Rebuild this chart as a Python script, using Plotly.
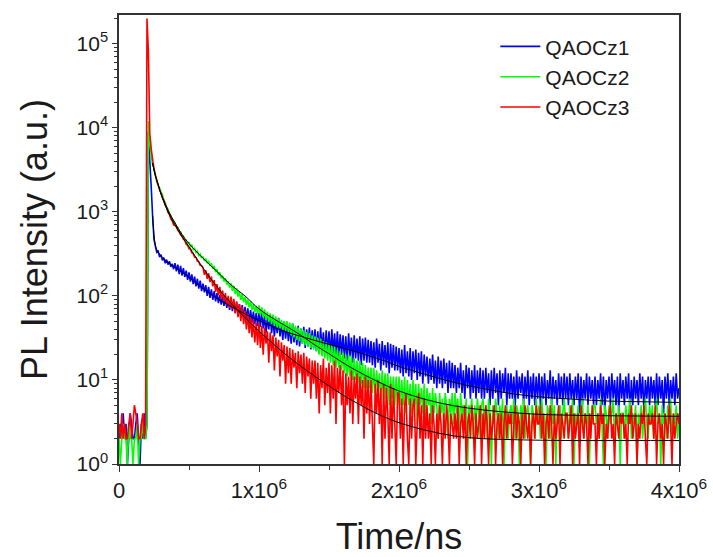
import numpy as np
import plotly.graph_objects as go

# channel times (ns), 10 us bins from 0 to 4e6 ns
time_ns = np.arange(401) * 10000.0

qaocz1 = [
 2,3,2,4,2,3,1,2,4,3,2,2,3,4,2,1,3,2,4,2,
 3,9000,4000,2000,900,470,390,330,340,290,310,265,285,245,270,236,258,222,240,208,
 245,196,236,182,228,175,214,168,200,155,190,148,180,138,170,130,160,122,152,114,
 140,110,134,100,128,95,120,90,114,86,108,82,103,79,98,76,94,72,90,68,
 90,66,87,63,84,61,80,58,78,56,74,53,71,50,68,48,65,46,63,44,
 63,43,66,41,58,36,56,40,60,36,53,33,51,36,55,33,48,30,50,31,
 46,29,44,27,47,28,42,26,44,25,41,27,43,24,40,25,42,23,39,24,
 40,22,38,21,42,23,37,20,39,21,38,19,40,21,36,20,38,19,35,20,
 34,18,33,17,36,19,32,16,34,18,31,17,33,15,31,17,32,16,30,16,
 29,15,28,14,31,16,27,13,29,15,26,14,28,12,27,14,26,13,25,13,
 24,12,23,11,26,12,22,11,24,10,22,12,23,10,21,11,22,9,20,11,
 19,9,18,10,20,9,17,8,19,9,17,8,18,9,16,7,17,8,16,8,
 15,7,14,8,16,7,13,6,15,8,14,6,13,7,15,6,13,7,14,6,
 13,6,14,7,12,5,13,6,14,7,12,5,13,6,12,7,14,5,12,6,
 12,6,11,5,13,6,11,7,12,5,11,6,13,5,11,6,12,5,11,6,
 12,5,11,6,12,5,10,6,13,5,11,6,10,5,12,6,11,5,12,6,
 11,5,12,6,10,5,11,6,12,4,11,5,10,6,12,5,11,6,10,5,
 11,5,10,6,12,5,11,4,10,6,11,5,12,6,10,5,11,4,12,6,
 10,5,11,6,12,4,10,5,11,6,10,5,12,6,11,4,10,6,11,5,
 11,6,10,5,12,5,11,6,10,4,11,6,12,5,10,6,11,5,12,6,8,
]

qaocz2 = [
 2,1,2,3,2,2,1,3,2,2,1,2,2,3,1,2,2,3,2,2,
 3,12000,6500,4700,3650,3250,2650,2450,2060,1930,1720,1610,1380,1300,1130,1070,945,895,800,770,
 735,650,650,575,575,510,515,455,460,415,435,385,400,355,368,328,342,303,316,282,
 295,262,278,244,262,228,244,210,228,192,208,176,190,162,174,148,162,136,150,126,
 142,115,132,106,123,98,114,90,105,84,97,78,91,73,86,68,80,64,76,61,
 77,59,73,55,69,52,65,49,62,46,60,44,57,42,54,41,52,39,50,38,
 50,36,48,34,47,32,44,30,42,29,41,27,39,26,37,25,36,24,34,23,
 33,22,32,20,31,19,29,18,28,17,27,16,26,15,25,14,23,14,22,13,
 21,12,20,11,20,11,19,10,18,10,17,9,17,9,16,8,15,8,14,8,
 14,7,14,7,13,7,12,6,13,6,12,6,12,5,11,6,11,5,11,5,
 11,5,10,5,11,4,10,5,9,4,10,5,9,3,9,5,8,4,9,3,
 8,5,7,3,8,4,7,5,2,7,4,6,3,7,5,2,6,4,7,3,
 7,4,6,2,7,4,5,3,6,1,5,4,6,2,5,3,6,4,2,5,
 6,3,5,2,6,4,1,5,3,6,4,2,5,3,6,1,4,5,2,4,
 5,3,6,2,5,4,1,5,3,6,2,4,5,3,1,5,4,2,6,3,
 5,2,6,3,4,1,5,4,2,6,3,5,1,4,3,5,2,4,6,3,
 4,2,5,3,6,1,4,3,5,2,4,6,2,4,3,5,1,4,3,5,
 5,3,4,2,6,3,1,5,4,2,5,3,4,6,2,4,3,5,1,4,
 4,2,5,3,4,6,2,4,3,5,1,4,3,5,2,4,6,3,2,5,
 3,5,2,4,6,3,4,1,5,3,4,2,5,3,6,2,4,3,5,2,4,
]

qaocz3 = [
 3,2,4,2,3,2,2,3,4,2,3,5,4,3,2,2,3,4,2,3,
 200000,80000,8500,5700,4200,3250,2750,2300,2080,1820,1680,1470,1370,1210,1130,985,935,825,785,700,
 690,668,604,582,531,519,472,459,412,400,364,362,327,318,290,286,259,254,231,229,
 218,178,202,160,186,146,170,130,154,112,138,102,128,92,116,86,108,78,100,72,
 98,70,92,62,86,56,80,50,74,46,66,40,62,36,56,32,52,28,48,26,
 48,24,44,20,42,27,38,16,37,22,34,13,32,19,30,11,28,17,26,9,
 25,12,24,9,23,14,21,8,22,12,20,9,21,7,19,11,18,6,17,9,
 17,6,16,4,15,8,18,5,14,7,16,4,15,6,17,3,14,7,15,5,
 13,1,12,5,11,4,13,3,11,6,12,3,11,5,10,2,11,4,10,3,
 10,3,1,9,4,10,3,8,1,9,2,8,4,1,9,2,8,3,1,7,
 7,2,6,1,5,7,2,1,6,2,5,6,1,3,7,2,5,1,6,2,
 5,2,4,1,5,3,1,4,2,5,3,1,4,2,5,3,1,4,3,2,
 4,2,5,1,3,4,2,5,1,3,4,2,5,3,1,4,2,3,5,1,
 4,2,5,3,1,4,2,3,5,1,3,4,2,4,1,3,5,2,4,3,
 4,1,3,5,2,4,3,1,4,2,5,3,2,4,1,3,4,2,5,3,
 3,5,2,4,1,3,4,2,5,3,1,4,2,3,5,1,4,3,2,4,
 4,2,3,5,1,4,2,3,4,1,5,3,2,4,3,1,4,2,5,3,
 3,1,4,2,5,3,4,1,3,2,4,5,2,3,1,4,3,2,4,3,
 4,2,3,1,4,3,5,2,3,4,1,3,2,4,3,5,2,1,4,3,
 3,4,2,5,1,3,4,2,3,1,4,3,2,5,3,1,4,2,3,4,3,
]

# fitted decay curves
fit_t = [0.24e6,0.26e6,0.28e6,0.3e6,0.35e6,0.4e6,0.45e6,0.5e6,0.6e6,0.7e6,0.8e6,0.9e6,
         1.0e6,1.1e6,1.2e6,1.3e6,1.4e6,1.5e6,1.6e6,1.7e6,1.8e6,1.9e6,2.0e6,2.2e6,2.4e6,
         2.6e6,2.8e6,3.0e6,3.25e6,3.5e6,3.75e6,4.0e6]
fit1 = [900,400,330,300,250,218,192,165,122,93,75,61,51,43,37,33,29.5,26.5,24,21.5,19,16.8,
        14.5,11.5,9.3,7.9,6.9,6.3,5.9,5.6,5.5,5.4]
fit2 = [3800,2700,2100,1650,1050,740,540,420,280,195,135,100,70,54,43,34,26,20.5,16,12.8,10.5,
        8.7,7.4,5.8,4.9,4.4,4.1,3.9,3.8,3.75,3.72,3.7]
fit3 = [3800,2700,2100,1620,1000,700,510,385,215,128,82,55,38,27,19.5,14.5,11,8.5,6.6,5.3,4.3,
        3.6,3.1,2.5,2.15,2.0,1.95,1.92,1.9,1.9,1.9,1.9]

x_tickvals = [0, 1e6, 2e6, 3e6, 4e6]
x_ticktext = ["0", "1x10<sup>6</sup>", "2x10<sup>6</sup>", "3x10<sup>6</sup>", "4x10<sup>6</sup>"]
y_tickvals = [1, 10, 100, 1000, 10000, 100000]
y_ticktext = ["10<sup>%d</sup>" % k for k in range(6)]

series = [("QAOCz1", qaocz1, "#0000FF"), ("QAOCz2", qaocz2, "#00FF00"), ("QAOCz3", qaocz3, "#FF0000")]

fig = go.Figure()
for name, vals, col in series:
    fig.add_trace(go.Scatter(x=time_ns, y=vals, mode="lines", name=name,
                             line=dict(color=col, width=1.6, simplify=False)))
for fv in (fit1, fit2, fit3):
    fig.add_trace(go.Scatter(x=fit_t, y=fv, mode="lines", showlegend=False,
                             line=dict(color="black", width=1, shape="spline")))

minor_y = [m * 10 ** k for k in range(6) for m in range(2, 10)]

font = "Liberation Sans, Arial, sans-serif"
fig.update_layout(
    width=713, height=557,
    margin=dict(l=119, r=34, t=15, b=93, autoexpand=False),
    paper_bgcolor="white", plot_bgcolor="white",
    font=dict(family=font, color="#1a1a1a"),
    showlegend=True,
    legend=dict(x=0.672, y=0.975, xanchor="left", yanchor="top",
                bgcolor="rgba(0,0,0,0)", font=dict(size=21, family=font),
                tracegroupgap=0, itemwidth=40),
)
fig.update_xaxes(
    automargin=False,
    range=[0, 4e6], showgrid=False, zeroline=False,
    showline=True, linecolor="#333", linewidth=1.5, mirror=True,
    ticks="outside", ticklen=6, tickcolor="#333",
    tickmode="array", tickvals=x_tickvals, ticktext=x_ticktext,
    tickfont=dict(size=22, family=font),
    minor=dict(ticks="outside", ticklen=4, tickcolor="#333", tickmode="array",
               tickvals=[0.5e6, 1.5e6, 2.5e6, 3.5e6]),
    title=dict(text="Time/ns", font=dict(size=36, family=font), standoff=24),
)
fig.update_yaxes(
    automargin=False,
    type="log", range=[0, np.log10(2.2e5)], showgrid=False, zeroline=False,
    showline=True, linecolor="#333", linewidth=1.5, mirror=True,
    ticks="outside", ticklen=5, tickcolor="#333",
    tickmode="array", tickvals=y_tickvals, ticktext=y_ticktext,
    tickfont=dict(size=21, family=font),
    minor=dict(ticks="outside", ticklen=3, tickcolor="#333", tickmode="array",
               tickvals=minor_y),
    title=dict(text="PL Intensity (a.u.)", font=dict(size=36, family=font), standoff=18),
)
fig.write_html("out.html")
